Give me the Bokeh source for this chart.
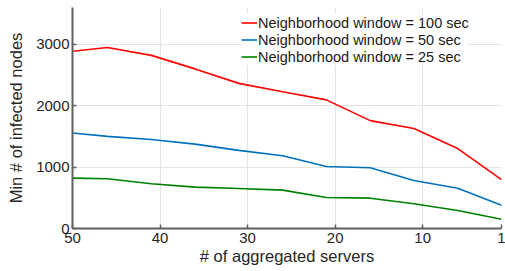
from bokeh.plotting import figure
from bokeh.models import Range1d, FixedTicker, Legend, LegendItem
from bokeh.embed import file_html
from bokeh.resources import INLINE

servers = [50, 46, 41, 36, 31, 26, 21, 16, 11, 6, 1]
win100 = [2887, 2948, 2820, 2600, 2364, 2228, 2095, 1757, 1628, 1302, 795]
win50 = [1555, 1500, 1450, 1375, 1272, 1186, 1011, 990, 783, 657, 380]
win25 = [820, 810, 730, 674, 652, 625, 506, 494, 403, 294, 152]
labels = ["Neighborhood window = 100 sec", "Neighborhood window = 50 sec", "Neighborhood window = 25 sec"]
colors = ["#ff0000", "#0072bd", "#008000"]
xticks = [50, 40, 30, 20, 10, 1]
yticks = [0, 1000, 2000, 3000]

FONT = "Liberation Sans"

p = figure(width=505, height=271, output_backend="svg", toolbar_location=None,
           x_range=Range1d(50, 1), y_range=Range1d(0, 3600),
           min_border_left=72, min_border_right=4, min_border_top=7, min_border_bottom=43)
p.outline_line_color = None

renderers = []
for ys, c in zip([win100, win50, win25], colors):
    r = p.line(servers, ys, line_color=c, line_width=1.6)
    renderers.append(r)

for ax in (p.xaxis[0], p.yaxis[0]):
    ax.axis_line_color = "#5f5f5f"
    ax.axis_line_width = 2
    ax.major_tick_in = 4
    ax.major_tick_out = 0
    ax.major_tick_line_color = "#5f5f5f"
    ax.major_tick_line_width = 1.5
    ax.minor_tick_line_color = None
    ax.major_label_text_font = FONT
    ax.major_label_text_font_size = "15px"
    ax.major_label_text_color = "#262626"
    ax.axis_label_text_font = FONT
    ax.axis_label_text_font_size = "16.5px"
    ax.axis_label_text_font_style = "normal"
    ax.axis_label_text_color = "#262626"

p.xaxis[0].ticker = FixedTicker(ticks=xticks)
p.yaxis[0].ticker = FixedTicker(ticks=yticks)
p.xaxis[0].axis_label = "# of aggregated servers"
p.yaxis[0].axis_label = "Min # of infected nodes"
p.xaxis[0].major_label_standoff = 4
p.yaxis[0].major_label_standoff = 3
p.xaxis[0].axis_label_standoff = 1
p.yaxis[0].axis_label_standoff = 8

p.xgrid[0].ticker = FixedTicker(ticks=xticks)
p.ygrid[0].ticker = FixedTicker(ticks=yticks)
p.xgrid.grid_line_color = "#e3e3e3"
p.ygrid.grid_line_color = "#e3e3e3"
p.xgrid.grid_line_width = 1
p.ygrid.grid_line_width = 1

legend = Legend(items=[LegendItem(label=l, renderers=[r]) for l, r in zip(labels, renderers)],
                location=(169, 163), border_line_color=None, background_fill_color="white",
                background_fill_alpha=1.0, padding=4, spacing=0, margin=0,
                label_text_font=FONT, label_text_font_size="14.5px", label_text_color="#1a1a1a",
                label_height=17, glyph_height=17, glyph_width=16, label_standoff=1)
p.add_layout(legend, "center")

open("out.html", "w").write(file_html(p, INLINE))
